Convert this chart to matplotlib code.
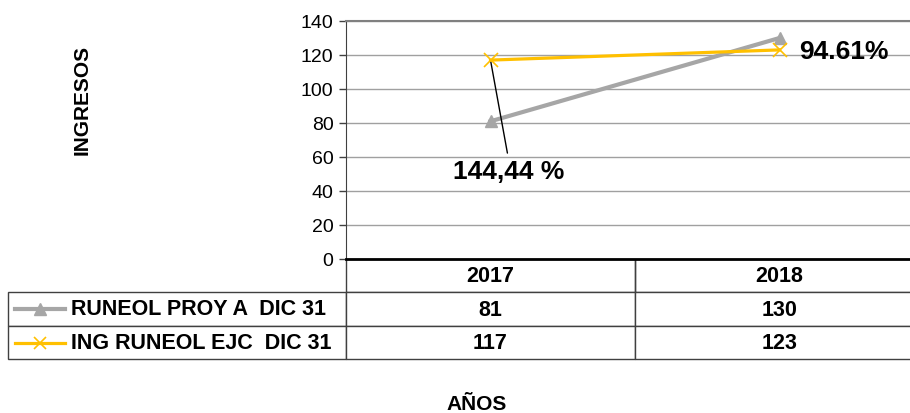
import matplotlib.pyplot as plt
from matplotlib.table import Table
from matplotlib.lines import Line2D

plt.rcParams["font.family"] = ["Liberation Sans", "DejaVu Sans"]

years = ["2017", "2018"]
proy = [81, 130]
ejc = [117, 123]
series_names = ["RUNEOL PROY A  DIC 31", "ING RUNEOL EJC  DIC 31"]
pct_labels = ["144,44 %", "94.61%"]

gray = "#A6A6A6"
yellow = "#FFC000"

fig = plt.figure(figsize=(9.1, 4.14), dpi=100)
ax = fig.add_axes([346 / 910, 1 - 260 / 414, 578 / 910, 238 / 414])

x = range(len(years))
ax.plot(x, proy, color=gray, lw=3, marker="^", ms=9, mec=gray, mfc=gray, zorder=3)
ax.plot(x, ejc, color=yellow, lw=2.3, marker="x", ms=10, mew=1.2, mec=yellow, zorder=4)

ax.set_xlim(-0.5, 1.5)
ax.set_ylim(0, 140)
ax.set_yticks(range(0, 141, 20))
ax.set_xticks([])
ax.tick_params(axis="y", labelsize=14, length=5, pad=4, width=1, color="#404040")
ax.yaxis.grid(True, color="#A0A0A0", lw=1)
ax.set_axisbelow(True)
ax.spines["right"].set_visible(False)
ax.spines["top"].set_color("#808080")
ax.spines["top"].set_linewidth(1.5)
ax.spines["left"].set_color("#404040")
ax.spines["bottom"].set_color("black")
ax.spines["bottom"].set_linewidth(2)

# annotations
ax.annotate(pct_labels[0], xy=(0, ejc[0]), xytext=(0.062, 52),
            fontsize=19, fontweight="bold", ha="center", va="center",
            arrowprops=dict(arrowstyle="-", color="black", lw=1, shrinkA=2, shrinkB=0,
                            relpos=(0.5, 1.0)))
ax.text(1.069, 122.4, pct_labels[1], fontsize=19, fontweight="bold", ha="left", va="center")

# data table below the plot
rows = [[str(v) for v in proy], [str(v) for v in ejc]]
tb = Table(ax, bbox=[-338 / 578, -100 / 238, 916 / 578, 100 / 238])
lw_col, dw = 338, 289
c = tb.add_cell(0, 0, lw_col, 1, text="")
c.visible_edges = ""
for j, yr in enumerate(years):
    c = tb.add_cell(0, j + 1, dw, 1, text=yr, loc="center")
    c.visible_edges = "LRB"
for i, r in enumerate(rows):
    tb.add_cell(i + 1, 0, lw_col, 1, text="", loc="left")
    for j, v in enumerate(r):
        tb.add_cell(i + 1, j + 1, dw, 1, text=v, loc="center")
for cell in tb.get_celld().values():
    cell.set_edgecolor("#404040")
    cell.set_linewidth(1)
    cell.get_text().set_fontsize(15.5)
    cell.get_text().set_fontweight("bold")
tb.auto_set_font_size(False)
tb.set_clip_on(False)
ax.add_table(tb)

# row labels with legend keys
row_y = [1 - 310 / 414, 1 - 344 / 414]
line_styles = [dict(color=gray, lw=3), dict(color=yellow, lw=2.3)]
mark_styles = [dict(marker="^", ms=8, mfc=gray, mec=gray, ls="none"),
               dict(marker="x", ms=9, mew=1.2, mec=yellow, ls="none")]
for name, yy, ls, ms in zip(series_names, row_y, line_styles, mark_styles):
    fig.add_artist(Line2D([15 / 910, 65 / 910], [yy, yy], transform=fig.transFigure, **ls))
    fig.add_artist(Line2D([40 / 910], [yy], transform=fig.transFigure, **ms))
    fig.text(71 / 910, yy, name, fontsize=15.5, fontweight="bold", ha="left", va="center")

fig.text(477 / 910, 1 - 405 / 414, "AÑOS", fontsize=15, fontweight="bold", ha="center", va="center")
fig.text(82 / 910, 1 - 100 / 414, "INGRESOS", fontsize=15, fontweight="bold",
         rotation=90, ha="center", va="center")

fig.savefig("out.png", dpi=100)
